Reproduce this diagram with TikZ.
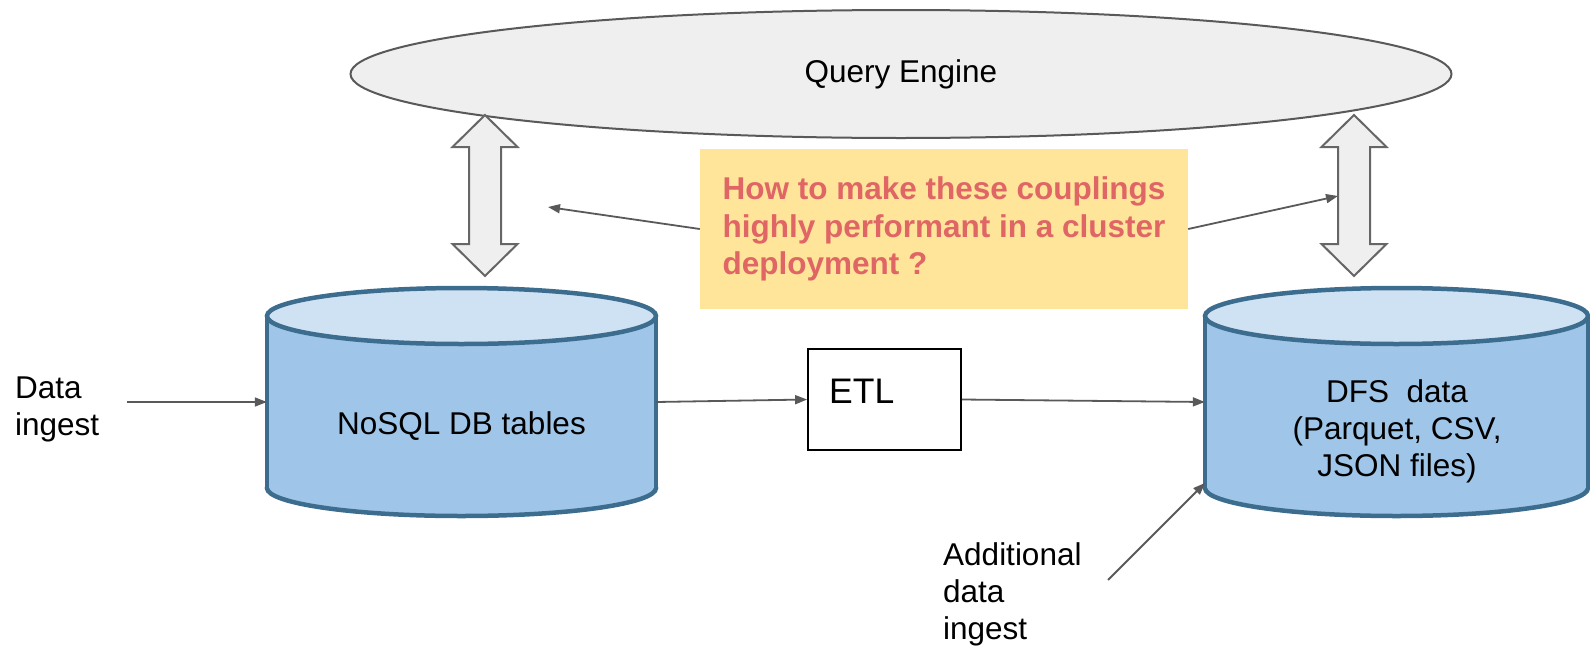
\documentclass[tikz,border=0pt]{standalone}
\usepackage{fontspec}
\setmainfont{Liberation Sans}
\usetikzlibrary{arrows.meta,shapes.geometric}

\definecolor{engfill}{HTML}{EFEFEF}
\definecolor{engline}{HTML}{595959}
\definecolor{arrline}{HTML}{666666}
\definecolor{cylline}{HTML}{3D6D8E}
\definecolor{cylbody}{HTML}{9FC5E8}
\definecolor{cyltop}{HTML}{CFE2F3}
\definecolor{notefill}{HTML}{FFE599}
\definecolor{notetext}{HTML}{E06666}
\definecolor{connline}{HTML}{595959}

\tikzset{
  lbl/.style={inner sep=0pt, font=\fontsize{31.5}{37}\selectfont},
  engine/.style={ellipse, draw=engline, fill=engfill, line width=2pt,
    inner sep=0pt, minimum width=1101pt, minimum height=128pt,
    font=\fontsize{31.5}{37}\selectfont},
  dblarrow/.style={draw=arrline, fill=engfill, line width=2pt, line join=miter},
  cylstroke/.style={draw=cylline, line width=4.5pt},
  cylarea/.style={inner sep=0pt, minimum height=172pt},
  notebox/.style={fill=notefill, inner sep=0pt, minimum width=488pt,
    minimum height=160pt, align=left, text=notetext,
    font=\bfseries\fontsize{31.5}{37.5}\selectfont},
  etlbox/.style={draw=black, line width=1.8pt, inner sep=0pt,
    minimum width=153pt, minimum height=101pt},
  conn/.style={draw=connline, line width=1.8pt,
    -{Triangle[length=12pt, width=9pt]}},
}

% database cylinder: #1 = centre x, #2 = half width
\newcommand{\dbcylinder}[2]{%
  \draw[cylstroke, fill=cylbody] (#1,488) ellipse [x radius=#2, y radius=28];
  \fill[cylbody] (#1-#2,316) rectangle (#1+#2,488);
  \draw[cylstroke] (#1-#2,316) -- (#1-#2,488) (#1+#2,316) -- (#1+#2,488);
  \draw[cylstroke, fill=cyltop] (#1,316) ellipse [x radius=#2, y radius=28];
}

% vertical two-headed block arrow centred at x = #1
\newcommand{\twowayarrow}[1]{%
  \draw[dblarrow] (#1,115) -- (#1+32.5,147) -- (#1+16,147) -- (#1+16,244)
    -- (#1+32.5,244) -- (#1,276) -- (#1-32.5,244) -- (#1-16,244)
    -- (#1-16,147) -- (#1-32.5,147) -- cycle;
}

\begin{document}
\begin{tikzpicture}[x=1pt, y=-1pt]
  \useasboundingbox (0,0) rectangle (1590,648);

  % query engine
  \node[engine] (qe) at (901,74) {Query Engine};

  % couplings between the engine and the stores
  \twowayarrow{485}
  \twowayarrow{1354}

  % storage layers
  \dbcylinder{461.5}{194.5}
  \dbcylinder{1396.5}{191.5}
  \node[cylarea, minimum width=389pt] (nosql) at (461.5,402) {};
  \node[cylarea, minimum width=383pt] (dfs) at (1396.5,402) {};
  \node[lbl, anchor=base] (nosqltxt) at (461.5,434) {NoSQL DB tables};
  \node[lbl, anchor=north, align=center] (dfstxt) at (1397,379)
    {DFS\ \ data\\(Parquet, CSV,\\JSON files)};

  % ETL step
  \node[etlbox] (etl) at (884.5,399.5) {};
  \node[inner sep=0pt, anchor=base west, font=\fontsize{35.5}{40}\selectfont]
    (etltxt) at (829,403) {ETL};

  % question note
  \node[notebox] (q) at (944,229)
    {How to make these couplings\\highly performant in a cluster\\deployment ?};

  % ingest labels
  \node[lbl, anchor=north west, align=left] (ingest) at (15,377)
    {Data\\ingest};
  \node[lbl, anchor=north west, align=left] (addingest) at (943,542)
    {Additional\\data\\ingest};

  % free connector ends
  \coordinate (ptL) at (548,207);
  \coordinate (ptR) at (1338,196);
  \coordinate (ingestsrc) at (127,402);
  \coordinate (addsrc) at (1108,580);
  \coordinate (addtip) at (1205,483);

  % connectors
  \draw[conn] (q.west) -- (ptL);
  \draw[conn] (q.east) -- (ptR);
  \draw[conn] (ingestsrc) -- (nosql.west);
  \draw[conn] (nosql.east) -- (etl.west);
  \draw[conn] (etl.east) -- (dfs.west);
  \draw[conn] (addsrc) -- (addtip);
\end{tikzpicture}
\end{document}
